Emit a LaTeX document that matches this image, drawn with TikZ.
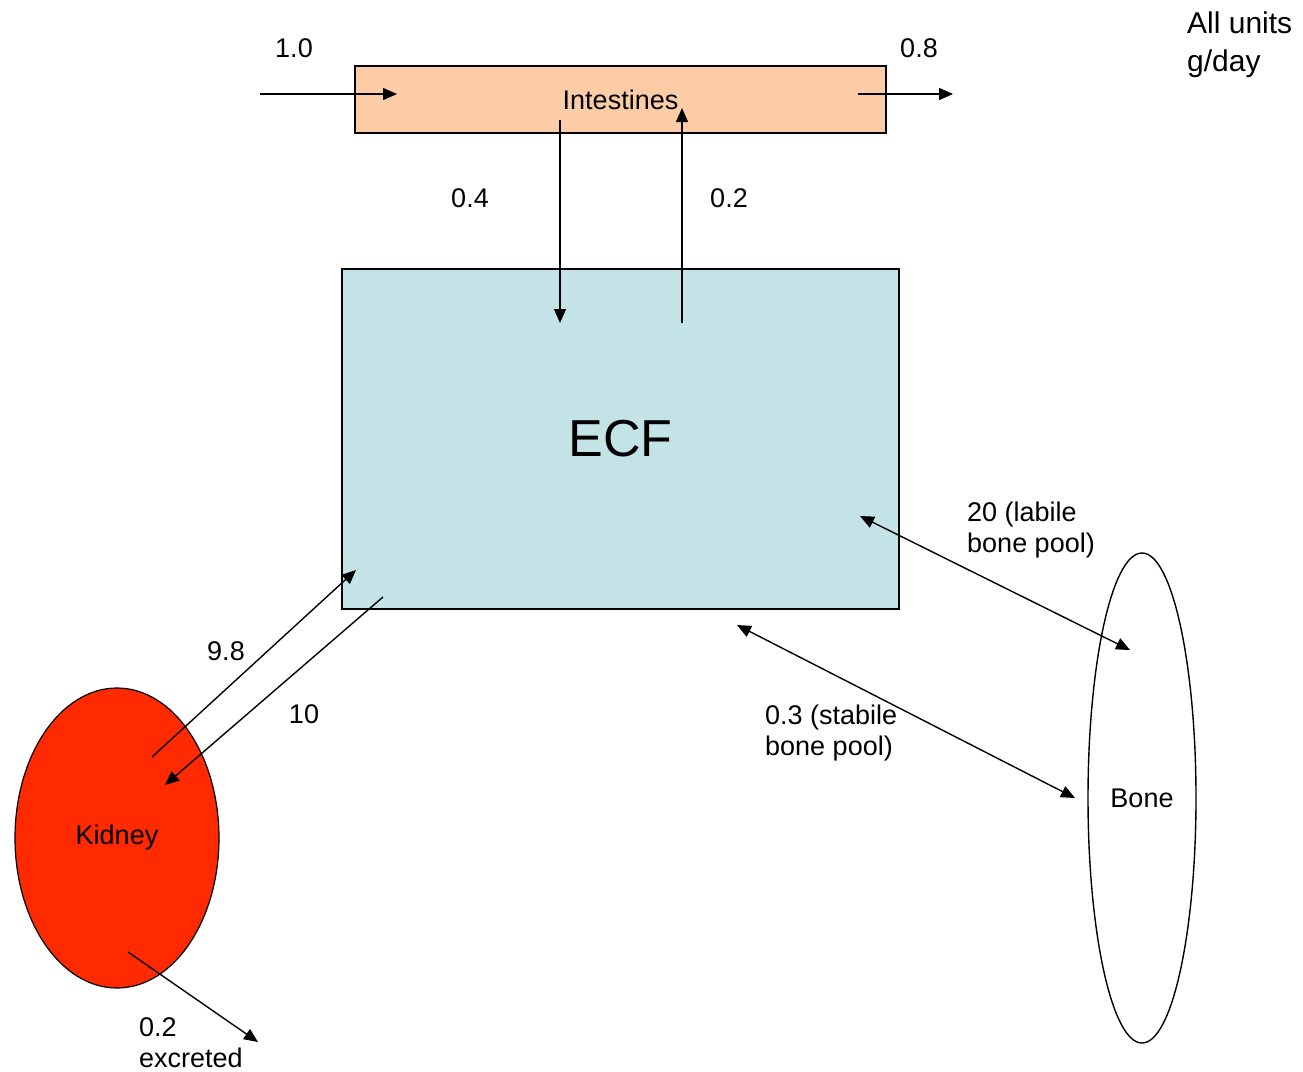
\documentclass[tikz,border=0pt]{standalone}
\usepackage{fontspec}
\setmainfont{Liberation Sans}
\usepackage{xcolor}
\usetikzlibrary{arrows.meta,shapes.geometric,positioning}

\definecolor{gutfill}{RGB}{251,204,166}
\definecolor{ecffill}{RGB}{196,227,230}
\definecolor{kidfill}{RGB}{255,42,0}

\begin{document}
\begin{tikzpicture}[x=1pt,y=-1pt,>={Triangle[length=14pt,width=12pt]},
  lbl/.style={font=\fontsize{27}{31}\selectfont,inner sep=0pt},
  flow/.style={->,line width=1.4pt},
  flow2/.style={<->,line width=1.4pt}]
  \useasboundingbox[fill=white] (0,0) rectangle (1303,1071);
  % compartments
  \node[draw,line width=1.4pt,fill=gutfill,minimum width=531pt,minimum height=67pt,lbl] (gut) at (620.5,99.5) {Intestines};
  \node[draw,line width=1.4pt,fill=ecffill,minimum width=557pt,minimum height=340pt,font=\fontsize{52}{60}\selectfont] (ecf) at (620.5,439) {ECF};
  \node[draw,ellipse,line width=1.2pt,fill=kidfill,minimum width=204pt,minimum height=300pt,lbl] (kid) at (117,838) {Kidney};
  \node[draw,ellipse,line width=1.4pt,minimum width=108pt,minimum height=490pt,lbl] (bone) at (1142,798) {Bone};
  % arrow ends
  \coordinate (inA) at (260,94);   \coordinate (inB) at (397,94);
  \coordinate (outA) at (858,94);  \coordinate (outB) at (953,94);
  \coordinate (dnA) at (560,120);  \coordinate (dnB) at (560,323);
  \coordinate (upA) at (682,323);  \coordinate (upB) at (682,108);
  \coordinate (reA) at (152,757);  \coordinate (reB) at (356,570);
  \coordinate (fiA) at (383,597);  \coordinate (fiB) at (165,785);
  \coordinate (lbA) at (860,516);  \coordinate (lbB) at (1130,650);
  \coordinate (stA) at (737,625);  \coordinate (stB) at (1075,798);
  \coordinate (exA) at (128,952);  \coordinate (exB) at (258,1042);
  \draw[flow] (inA) -- (inB);
  \draw[flow] (outA) -- (outB);
  \draw[flow] (dnA) -- (dnB);
  \draw[flow] (upA) -- (upB);
  \draw[flow] (reA) -- (reB);
  \draw[flow] (fiA) -- (fiB);
  \draw[flow2] (lbA) -- (lbB);
  \draw[flow2] (stA) -- (stB);
  \draw[flow] (exA) -- (exB);
  % labels
  \node[lbl] (l10) at (294,48) {1.0};
  \node[lbl] (l08) at (919,48) {0.8};
  \node[lbl] (l04) at (470,198) {0.4};
  \node[lbl] (l02) at (729,198) {0.2};
  \node[lbl] (l98) at (226,651) {9.8};
  \node[lbl] (l100) at (304,714) {10};
  \node[lbl,align=left,anchor=base west] (llab) at (967,552) {20 (labile\\bone pool)};
  \node[lbl,align=left,anchor=base west] (lsta) at (765,755) {0.3 (stabile\\bone pool)};
  \node[lbl,align=left,anchor=base west] (lexc) at (139,1067) {0.2\\excreted};
  \node[font=\fontsize{30}{38}\selectfont,inner sep=0pt,align=left,anchor=base west] (units) at (1187,71) {All units\\g/day};
\end{tikzpicture}
\end{document}
